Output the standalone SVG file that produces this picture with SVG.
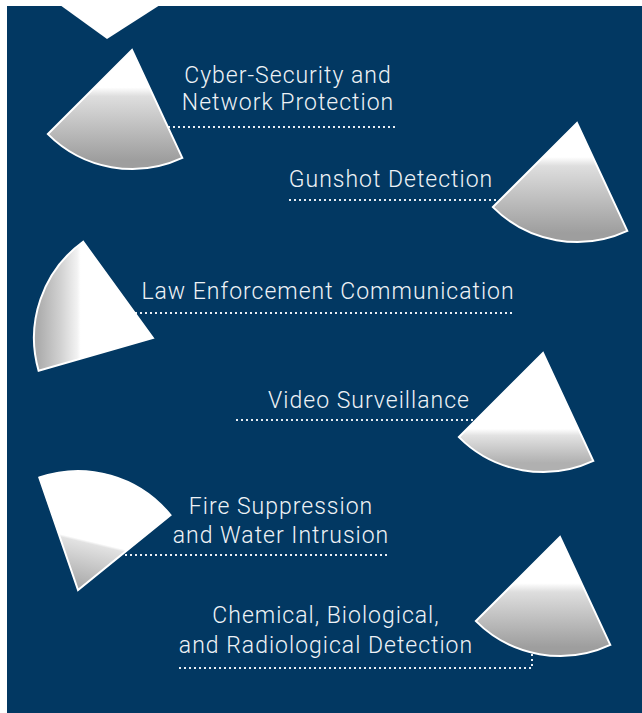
<svg xmlns="http://www.w3.org/2000/svg" width="642" height="713" viewBox="0 0 642 713">
  <style>
    .label { font-family: Roboto, "Liberation Sans", Arial, sans-serif; font-weight: 300; font-size: 23px; letter-spacing: 1px; fill: #eef2f6; text-anchor: middle; }
    .wedge { stroke: #ffffff; stroke-width: 2; stroke-linejoin: miter; }
    .dots { fill: none; stroke: #e9eef4; stroke-width: 2; stroke-dasharray: 2 3; }
  </style>
  <defs>
    <!-- sector shape: centre at the origin, radius 119, spanning 65°..135° -->
    <path id="sector" d="M0,0 L-84.1,84.1 A119,119 0 0 0 50.3,107.9 Z"/>
    <linearGradient id="gCyber" gradientUnits="userSpaceOnUse" x1="0" y1="0" x2="0" y2="110">
      <stop offset="0" stop-color="#ffffff"/>
      <stop offset="0.34" stop-color="#ffffff"/>
      <stop offset="0.42" stop-color="#dedede"/>
      <stop offset="1" stop-color="#9e9e9e"/>
    </linearGradient>
    <linearGradient id="gGun" gradientUnits="userSpaceOnUse" x1="0" y1="0" x2="0" y2="110">
      <stop offset="0" stop-color="#ffffff"/>
      <stop offset="0.31" stop-color="#ffffff"/>
      <stop offset="0.39" stop-color="#dedede"/>
      <stop offset="1" stop-color="#9e9e9e"/>
    </linearGradient>
    <linearGradient id="gVideo" gradientUnits="userSpaceOnUse" x1="0" y1="0" x2="0" y2="110">
      <stop offset="0" stop-color="#ffffff"/>
      <stop offset="0.69" stop-color="#ffffff"/>
      <stop offset="0.75" stop-color="#e2e2e2"/>
      <stop offset="1" stop-color="#b0b0b0"/>
    </linearGradient>
    <linearGradient id="gChem" gradientUnits="userSpaceOnUse" x1="0" y1="0" x2="0" y2="110">
      <stop offset="0" stop-color="#ffffff"/>
      <stop offset="0.42" stop-color="#ffffff"/>
      <stop offset="0.5" stop-color="#dedede"/>
      <stop offset="1" stop-color="#9e9e9e"/>
    </linearGradient>
    <linearGradient id="gLaw" gradientUnits="userSpaceOnUse" x1="38" y1="0" x2="153" y2="0">
      <stop offset="0" stop-color="#acacac"/>
      <stop offset="0.2" stop-color="#d2d2d2"/>
      <stop offset="0.34" stop-color="#f2f2f2"/>
      <stop offset="0.37" stop-color="#ffffff"/>
      <stop offset="1" stop-color="#ffffff"/>
    </linearGradient>
    <linearGradient id="gFire" gradientUnits="userSpaceOnUse" x1="64" y1="535" x2="52" y2="585">
      <stop offset="0" stop-color="#ffffff"/>
      <stop offset="0.05" stop-color="#e2e2e2"/>
      <stop offset="1" stop-color="#a4a4a4"/>
    </linearGradient>
  </defs>

  <!-- panel -->
  <rect x="0" y="0" width="642" height="713" fill="#ffffff"/>
  <rect x="7" y="6" width="635" height="707" fill="#023862"/>
  <polygon points="60,5 160,5 107,39" fill="#ffffff"/>

  <!-- dotted leaders -->
  <g id="connectors">
    <line class="dots" x1="168" y1="127" x2="396" y2="127"/>
    <line class="dots" x1="289" y1="200" x2="500" y2="200"/>
    <line class="dots" x1="135" y1="313" x2="514" y2="313"/>
    <line class="dots" x1="236" y1="420" x2="478" y2="420"/>
    <line class="dots" x1="125" y1="555" x2="388" y2="555"/>
    <polyline class="dots" points="179,668 532,668 532,650"/>
  </g>

  <g id="cyber-security">
    <use href="#sector" class="wedge" fill="url(#gCyber)" transform="translate(132,50)"/>
    <text class="label" x="288" y="83">Cyber-Security and</text>
    <text class="label" x="288" y="110">Network Protection</text>
  </g>

  <g id="gunshot-detection">
    <use href="#sector" class="wedge" fill="url(#gGun)" transform="translate(577,123)"/>
    <text class="label" x="391" y="187">Gunshot Detection</text>
  </g>

  <g id="law-enforcement">
    <path class="wedge" fill="url(#gLaw)" d="M153,338 L83.1,241.7 A119,119 0 0 0 38.6,370.8 Z"/>
    <text class="label" x="328" y="299">Law Enforcement Communication</text>
  </g>

  <g id="video-surveillance">
    <use href="#sector" class="wedge" fill="url(#gVideo)" transform="translate(543,353)"/>
    <text class="label" x="369" y="408">Video Surveillance</text>
  </g>

  <g id="fire-suppression">
    <path class="wedge" fill="url(#gFire)" d="M78,590 L39.3,477.5 A119,119 0 0 1 170.5,515.1 Z"/>
    <text class="label" x="281" y="514">Fire Suppression</text>
    <text class="label" x="281" y="543">and Water Intrusion</text>
  </g>

  <g id="cbr-detection">
    <use href="#sector" class="wedge" fill="url(#gChem)" transform="translate(560,537)"/>
    <text class="label" x="326" y="623">Chemical, Biological,</text>
    <text class="label" x="326" y="653">and Radiological Detection</text>
  </g>
</svg>
